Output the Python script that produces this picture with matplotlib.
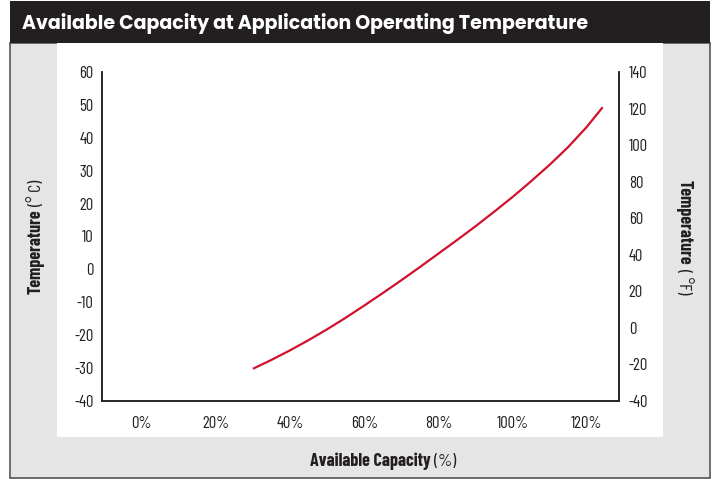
import matplotlib
matplotlib.use("Agg")
import matplotlib.pyplot as plt
from matplotlib.patches import Rectangle
import numpy as np

# Werte
kapasitet = [30, 35, 40, 45, 50, 55, 60, 65, 70, 75, 80, 85, 90, 95, 100,
             105, 110, 115, 120, 124.3]
temp_c = [-30.2, -27.5, -24.6, -21.5, -18.2, -14.7, -11.0, -7.2, -3.3, 0.7,
          4.8, 8.9, 13.1, 17.5, 22.0, 26.8, 31.8, 37.2, 43.3, 49.3]

x_ticks = [0, 20, 40, 60, 80, 100, 120]
c_ticks = [-40, -30, -20, -10, 0, 10, 20, 30, 40, 50, 60]
f_ticks = [-40, -20, 0, 20, 40, 60, 80, 100, 120, 140]

tittel = "Available Capacity at Application Operating Temperature"

#Farger og fonter
svart = "#231f20"
graa = "#e6e5e6"
rod = "#d2112c"
smal = ["Barlow Condensed", "Roboto Condensed", "Archivo Narrow", "DejaVu Sans"]
geo = ["Poppins", "Lato", "DejaVu Sans"]

plt.rcParams["font.family"] = smal
plt.rcParams["axes.unicode_minus"] = False

fig = plt.figure(figsize=(7.14, 4.79), dpi=100)
W, H = 714, 479

def rect(x0, y0, x1, y1, z, **kw):
    # pikselkoordinater (fra topp) -> figurkoordinater
    fig.patches.append(Rectangle((x0 / W, 1 - y1 / H), (x1 - x0) / W, (y1 - y0) / H,
                                 transform=fig.transFigure, zorder=z, **kw))

rect(10, 43, 710, 478, -3, facecolor=graa, edgecolor="#555557", linewidth=1.2)
rect(10, 1, 710, 43, -2, facecolor=svart, edgecolor="none")
rect(57, 43, 663, 437, -2, facecolor="white", edgecolor="none")

fig.text(22 / W, 1 - 23 / H, tittel, color="white", fontsize=13.7, fontweight="bold",
         family=geo, va="center", ha="left")

ax = fig.add_axes([102 / W, 1 - 401 / H, 517 / W, 329 / H])
ax.patch.set_alpha(0)
ax.plot(kapasitet, temp_c, color=rod, linewidth=1.6, solid_capstyle="butt")

ax.set_xlim(-10.7, 128.7)
ax.set_ylim(-40, 60)
ax.set_xticks(x_ticks)
ax.set_xticklabels([f"{v}%" for v in x_ticks])
ax.set_yticks(c_ticks)
ax.set_yticks([60], minor=True)
ax.tick_params(axis="both", which="major", length=0, labelsize=12, colors=svart)
ax.tick_params(axis="x", pad=11)
ax.tick_params(axis="y", pad=6)
ax.tick_params(axis="y", which="minor", direction="inout", length=7, width=1, color=svart)

ax2 = ax.twinx()
ax2.set_ylim(-40, 140)
ax2.set_yticks(f_ticks)
ax2.set_yticks([140], minor=True)
ax2.tick_params(axis="y", which="major", length=0, labelsize=12, colors=svart, pad=7)
ax2.tick_params(axis="y", which="minor", direction="inout", length=7, width=1, color=svart)

for a in (ax, ax2):
    a.spines["top"].set_visible(False)
    for s in ("left", "right", "bottom"):
        a.spines[s].set_color(svart)
        a.spines[s].set_linewidth(1.1)

# Aksetitler med fet og vanlig del
fig.canvas.draw()
r = fig.canvas.get_renderer()

def todelt(x, y, fet, vanlig, rot):
    t1 = fig.text(0, 0, fet, fontsize=13, fontweight="bold", color=svart, rotation=rot)
    t2 = fig.text(0, 0, vanlig, fontsize=13, color=svart, rotation=rot)
    b1 = t1.get_window_extent(r)
    b2 = t2.get_window_extent(r)
    gap = 4
    if rot == 0:
        tot = b1.width + gap + b2.width
        x0 = x - tot / 2
        t1.set_position((x0 / W, 1 - y / H)); t1.set_va("center"); t1.set_ha("left")
        t2.set_position(((x0 + b1.width + gap) / W, 1 - y / H)); t2.set_va("center"); t2.set_ha("left")
    elif rot == 90:
        tot = b1.height + gap + b2.height
        y0 = y + tot / 2  # fra topp, nederste kant
        t1.set_position((x / W, 1 - y0 / H)); t1.set_ha("center"); t1.set_va("bottom")
        t2.set_position((x / W, 1 - (y0 - b1.height - gap) / H)); t2.set_ha("center"); t2.set_va("bottom")
    else:
        tot = b1.height + gap + b2.height
        y0 = y - tot / 2
        t1.set_position((x / W, 1 - y0 / H)); t1.set_ha("center"); t1.set_va("top")
        t2.set_position((x / W, 1 - (y0 + b1.height + gap) / H)); t2.set_ha("center"); t2.set_va("top")

todelt(383, 461, "Available Capacity", "(%)", 0)
todelt(36, 237, "Temperature", "(° C)", 90)
todelt(684, 237, "Temperature", "( °F)", 270)

fig.savefig("out.png", dpi=100)
